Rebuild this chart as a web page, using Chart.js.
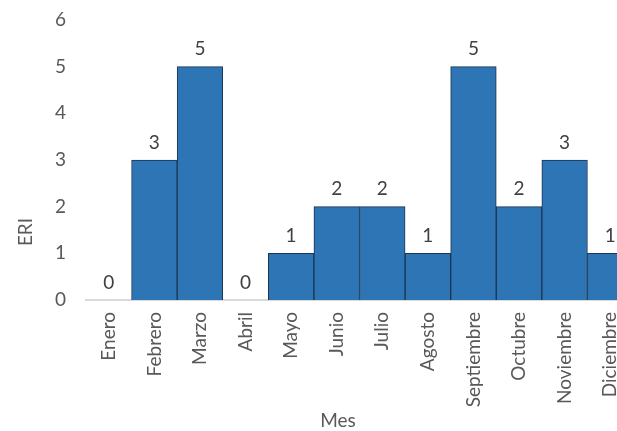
<!DOCTYPE html>
<html>
<head>
<meta charset="utf-8">
<script src="https://cdn.jsdelivr.net/npm/chart.js@4"></script>
<style>
    html, body { margin: 0; padding: 0; background: #fff; overflow: hidden; }
    #wrap { width: 640px; height: 431px; }
</style>
</head>
<body>
<div id="wrap"><canvas id="eriChart"></canvas></div>
<script>
const meses = ["Enero", "Febrero", "Marzo", "Abril", "Mayo", "Junio", "Julio",
    "Agosto", "Septiembre", "Octubre", "Noviembre", "Diciembre"];
const eri = [0, 3, 5, 0, 1, 2, 2, 1, 5, 2, 3, 1];
const yTicks = [0, 1, 2, 3, 4, 5, 6];

const FONT = "Lato, 'Open Sans', sans-serif";

// Value labels above each bar
const barLabels = {
    id: "barLabels",
    afterDatasetsDraw(chart) {
        const ctx = chart.ctx;
        const meta = chart.getDatasetMeta(0);
        ctx.save();
        ctx.font = "19px " + FONT;
        ctx.fillStyle = "#404040";
        ctx.textAlign = "center";
        ctx.textBaseline = "bottom";
        meta.data.forEach((bar, i) => {
            ctx.fillText(String(eri[i]), bar.x, bar.y - 8);
        });
        ctx.restore();
    }
};

// Axis titles
const axisTitles = {
    id: "axisTitles",
    afterDraw(chart) {
        const ctx = chart.ctx;
        const area = chart.chartArea;
        ctx.save();
        ctx.font = "19px " + FONT;
        ctx.fillStyle = "#595959";
        ctx.textAlign = "center";
        ctx.textBaseline = "middle";
        ctx.fillText("Mes", 338, 421);
        ctx.translate(26, area.bottom - 68);
        ctx.rotate(-Math.PI / 2);
        ctx.fillText("ERI", 0, 0);
        ctx.restore();
    }
};

new Chart(document.getElementById("eriChart").getContext("2d"), {
    type: "bar",
    data: {
        labels: meses,
        datasets: [{
            label: "ERI",
            data: eri,
            backgroundColor: "#2E75B6",
            borderColor: "#1B3550",
            borderWidth: 1,
            categoryPercentage: 1.0,
            barPercentage: 1.0,
        }]
    },
    options: {
        responsive: true,
        maintainAspectRatio: false,
        animation: false,
        layout: { padding: { top: 20, right: 7, left: 0, bottom: 0 } },
        plugins: {
            legend: { display: false },
            tooltip: { enabled: false },
        },
        scales: {
            x: {
                grid: { display: false, drawTicks: false },
                border: { color: "#D9D9D9", width: 2 },
                ticks: {
                    color: "#595959",
                    font: { family: FONT, size: 19 },
                    minRotation: 90,
                    maxRotation: 90,
                    padding: 12,
                    autoSkip: false,
                },
                afterFit(scale) {
                    scale.height = 131;
                    scale.paddingLeft = 0;
                    scale.paddingRight = 0;
                },
            },
            y: {
                min: 0,
                max: 6,
                grid: { display: false, drawTicks: false },
                border: { display: false },
                afterBuildTicks(scale) {
                    scale.ticks = yTicks.map(v => ({ value: v }));
                },
                ticks: {
                    color: "#595959",
                    font: { family: FONT, size: 19 },
                    padding: 20,
                },
                afterFit(scale) {
                    scale.width = 86;
                    scale.paddingTop = 0;
                    scale.paddingBottom = 0;
                },
            }
        }
    },
    plugins: [barLabels, axisTitles]
});
</script>
</body>
</html>
